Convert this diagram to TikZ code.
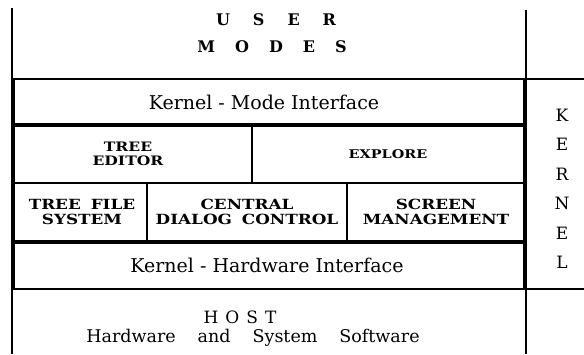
\documentclass[tikz,border=0pt]{standalone}
\usepackage{fontspec}
\setmainfont{DejaVu Serif}
\newfontfamily\widefont[FakeStretch=1.2]{DejaVu Serif}
\begin{document}
\begin{tikzpicture}[x=1pt,y=-1pt,
  rule/.style={line width=2.6pt},
  heavyrule/.style={line width=4.2pt},
  caplabel/.style={font=\widefont\bfseries\fontsize{14}{15}\selectfont, align=center, inner sep=0pt},
  bandlabel/.style={font=\fontsize{19}{22}\selectfont, inner sep=0pt},
  kletter/.style={font=\fontsize{17}{19}\selectfont, inner sep=0pt}]
\useasboundingbox (0,0) rectangle (584,354);

% outer uprights
\draw[rule] (12,8) -- (12,354);
\draw[rule] (526,10) -- (526,354);
% kernel frame
\draw[heavyrule] (13,79) -- (13,289);
\draw[heavyrule] (525,79) -- (525,289);
\draw[rule] (11,79) -- (584,79);
\draw[rule] (11,289) -- (584,289);
% kernel layers
\draw[heavyrule] (12,125) -- (526,125);
\draw[rule] (12,183) -- (526,183);
\draw[heavyrule] (12,242) -- (526,242);
% module dividers
\draw[rule] (252,125) -- (252,183);
\draw[rule] (147,183) -- (147,242);
\draw[rule] (347,183) -- (347,242);

% user modes
\node[font=\bfseries\fontsize{16}{18}\selectfont, inner sep=0pt] (user) at (276,20) {U\hspace{23pt}S\hspace{23pt}E\hspace{23pt}R};
\node[font=\bfseries\fontsize{16}{18}\selectfont, inner sep=0pt] (modes) at (272,47) {M\hspace{20pt}O\hspace{20pt}D\hspace{20pt}E\hspace{20pt}S};

% kernel contents
\node[bandlabel] (kmi) at (264,102) {Kernel - Mode Interface};
\node[caplabel, font=\widefont\bfseries\fontsize{13}{14}\selectfont] (tree) at (128,154) {TREE\\EDITOR};
\node[caplabel, font=\widefont\bfseries\fontsize{12}{14}\selectfont] (explore) at (388,154) {EXPLORE};
\node[caplabel] (tfs) at (82,212) {TREE\hspace{10pt}FILE\\SYSTEM};
\node[caplabel] (cdc) at (247,212) {CENTRAL\\DIALOG\hspace{10pt}CONTROL};
\node[caplabel] (scr) at (436,212) {SCREEN\\MANAGEMENT};
\node[bandlabel] (khi) at (267,265) {Kernel - Hardware Interface};

% kernel side caption
\node[kletter] (k1) at (562,115) {K};
\node[kletter] (k2) at (562,144) {E};
\node[kletter] (k3) at (562,174) {R};
\node[kletter] (k4) at (562,203) {N};
\node[kletter] (k5) at (562,233) {E};
\node[kletter] (k6) at (562,262) {L};

% host
\node[font=\fontsize{17}{19}\selectfont, inner sep=0pt] (host) at (240,317) {H\hspace{7pt}O\hspace{7pt}S\hspace{7pt}T};
\node[font=\fontsize{17.5}{19}\selectfont, inner sep=0pt] (hw) at (253,338) {Hardware\hspace{22pt}and\hspace{22pt}System\hspace{22pt}Software};
\end{tikzpicture}
\end{document}
